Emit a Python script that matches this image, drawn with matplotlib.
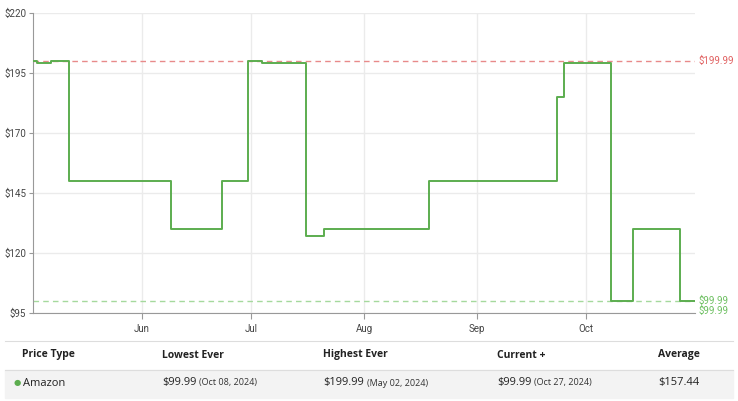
import matplotlib
matplotlib.use("Agg")
import matplotlib.pyplot as plt
import matplotlib.dates as mdates
import numpy as np
from matplotlib.patches import Rectangle

dates = ["2024-05-02", "2024-05-03", "2024-05-07", "2024-05-12", "2024-06-09", "2024-06-23",
         "2024-06-30", "2024-07-04", "2024-07-16", "2024-07-21", "2024-08-19", "2024-09-23",
         "2024-09-25", "2024-10-08", "2024-10-14", "2024-10-27", "2024-10-31"]
prices = [199.99, 198.99, 199.99, 149.99, 129.99, 149.99, 199.99, 198.99, 126.99, 129.99,
          149.99, 184.99, 198.99, 99.99, 129.99, 99.99, 99.99]
highest = 199.99
lowest = 99.99
yticks = [95, 120, 145, 170, 195, 220]
month_ticks = ["2024-06-01", "2024-07-01", "2024-08-01", "2024-09-01", "2024-10-01"]
month_labels = ["Jun", "Jul", "Aug", "Sep", "Oct"]
headers = ["Price Type", "Lowest Ever", "Highest Ever", "Current +", "Average"]
row_main = ["Amazon", "$99.99", "$199.99", "$99.99", "$157.44"]
row_sub = ["", "(Oct 08, 2024)", "(May 02, 2024)", "(Oct 27, 2024)", ""]

W, H = 738, 401
fig = plt.figure(figsize=(W/100, H/100), dpi=100)
ax = fig.add_axes([33/W, (H-313)/H, 662/W, 300/H])
d = np.array(dates, dtype="datetime64[D]")
ax.plot(d, prices, drawstyle="steps-post", color="#5cad4f", lw=1.4, zorder=3)
ax.axhline(highest, color="#e88a8a", ls=(0, (4, 3)), lw=1)
ax.axhline(lowest, color="#a5d99d", ls=(0, (4, 3)), lw=1)
ax.set_xlim(d[0], d[-1])
ax.set_ylim(95, 220)
ax.set_yticks(yticks)
ax.set_yticklabels([f"${v}" for v in yticks], fontsize=7, color="#444", family="Roboto")
mt = np.array(month_ticks, dtype="datetime64[D]")
ax.set_xticks(mt)
ax.set_xticklabels(month_labels, fontsize=7, color="#444", family="Roboto")
ax.grid(True, color="#ebebeb", lw=1)
ax.set_axisbelow(True)
for s in ["top", "right"]:
    ax.spines[s].set_visible(False)
for s in ["left", "bottom"]:
    ax.spines[s].set_color("#999")
ax.tick_params(axis="y", length=3, color="#999", pad=2)
ax.tick_params(axis="x", length=4, color="#999", pad=4)
ax.text(1.005, highest, "$199.99", transform=ax.get_yaxis_transform(), va="center",
        fontsize=7, color="#e06060", family="Roboto")
ax.text(1.005, lowest, "$99.99", transform=ax.get_yaxis_transform(), va="center",
        fontsize=7, color="#6cbf60", family="Roboto")
ax.text(1.005, 95.8, "$99.99", transform=ax.get_yaxis_transform(), va="center",
        fontsize=7, color="#6cbf60", family="Roboto")

def fy(y):
    return (H - y) / H

fig.patches.append(Rectangle((5/W, fy(398)), 728/W, 28/H, transform=fig.transFigure,
                             color="#f3f3f3", zorder=0))
fig.lines.append(plt.Line2D([5/W, 733/W], [fy(341), fy(341)], transform=fig.transFigure,
                            color="#ddd", lw=0.8))
fig.lines.append(plt.Line2D([5/W, 733/W], [fy(370), fy(370)], transform=fig.transFigure,
                            color="#ddd", lw=0.8))
hx = [22, 162, 323, 497, 658]
for x, t in zip(hx, headers):
    fig.text(x/W, fy(355), t, fontsize=7.5, fontweight="bold", va="center", color="#222",
             family="Open Sans")
fig.text(14/W, fy(383), "●", fontsize=6, color="#5cad4f", va="center")
fig.text(23/W, fy(383), row_main[0], fontsize=8, va="center", color="#222", family="Open Sans")
for x, m, s in zip(hx[1:], row_main[1:], row_sub[1:]):
    t = fig.text(x/W, fy(383), m, fontsize=8, va="center", color="#222", family="Open Sans")
    if s:
        fig.canvas.draw()
        bb = t.get_window_extent()
        fig.text((bb.x1 + 3)/W, fy(383), s, fontsize=6.5, va="center", color="#333",
                 family="Open Sans")
fig.savefig("out.png", dpi=100)
